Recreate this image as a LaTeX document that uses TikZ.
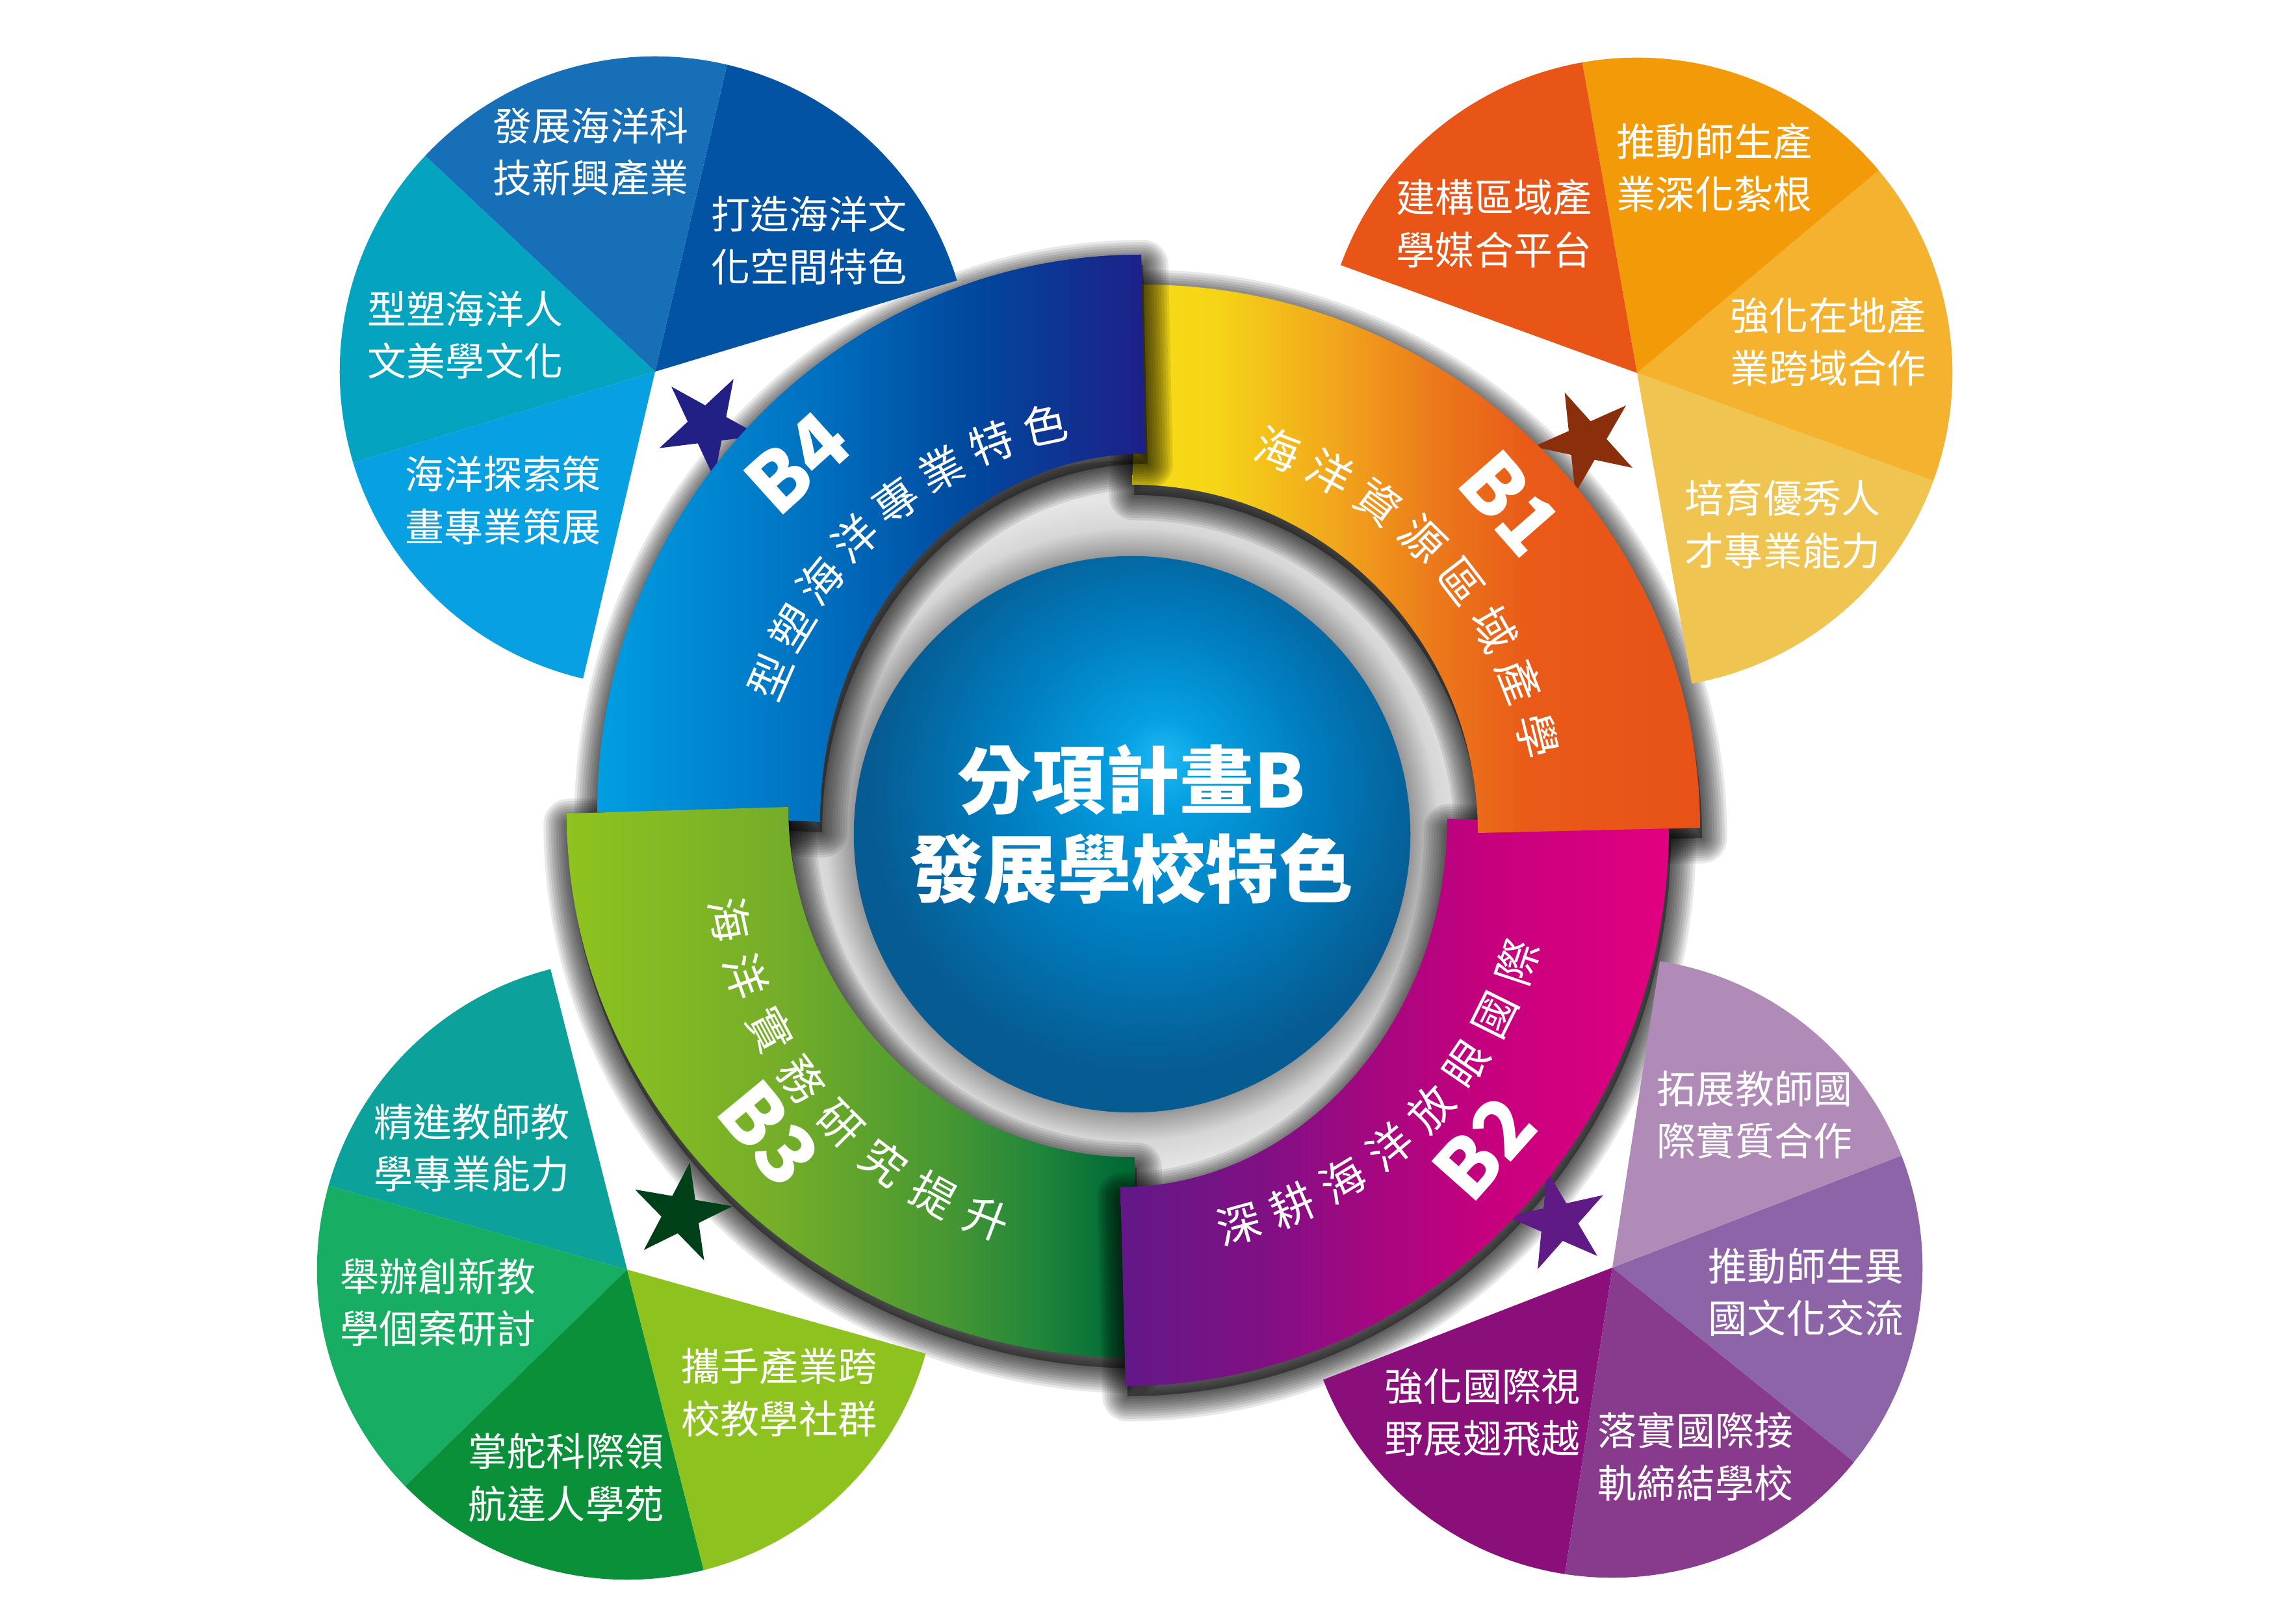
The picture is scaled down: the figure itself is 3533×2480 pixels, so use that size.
\documentclass[tikz,border=0pt]{standalone}
\usepackage{fontspec}
\newfontfamily\cjk{Noto Sans CJK TC}
% pie colours
\definecolor{tlA}{RGB}{3,83,164}
\definecolor{tlB}{RGB}{23,111,184}
\definecolor{tlC}{RGB}{4,163,192}
\definecolor{tlD}{RGB}{7,160,227}
\definecolor{trA}{RGB}{240,196,81}
\definecolor{trB}{RGB}{245,178,47}
\definecolor{trC}{RGB}{242,154,8}
\definecolor{trD}{RGB}{232,85,22}
\definecolor{blA}{RGB}{12,162,155}
\definecolor{blB}{RGB}{23,173,98}
\definecolor{blC}{RGB}{10,144,57}
\definecolor{blD}{RGB}{141,194,31}
\definecolor{brA}{RGB}{138,15,123}
\definecolor{brB}{RGB}{136,59,141}
\definecolor{brC}{RGB}{142,100,168}
\definecolor{brD}{RGB}{177,139,183}
% stars
\definecolor{stTL}{RGB}{34,31,133}
\definecolor{stTR}{RGB}{139,46,12}
\definecolor{stBL}{RGB}{0,64,25}
\definecolor{stBR}{RGB}{96,26,134}
% ring segment gradients
\definecolor{bfA}{RGB}{0,158,226}
\definecolor{bfB}{RGB}{0,112,192}
\definecolor{bfC}{RGB}{0,72,158}
\definecolor{bfD}{RGB}{29,32,136}
\pgfdeclarehorizontalshading{shBfour}{100bp}{color(0bp)=(bfA); color(25bp)=(bfA); color(45bp)=(bfB); color(59bp)=(bfC); color(75bp)=(bfD); color(100bp)=(bfD)}
\definecolor{boA}{RGB}{245,218,22}
\definecolor{boB}{RGB}{245,214,22}
\definecolor{boC}{RGB}{242,170,28}
\definecolor{boD}{RGB}{236,120,27}
\definecolor{boE}{RGB}{233,90,24}
\definecolor{boF}{RGB}{232,82,24}
\pgfdeclarehorizontalshading{shBone}{100bp}{color(0bp)=(boA); color(25bp)=(boA); color(32bp)=(boB); color(42bp)=(boC); color(52bp)=(boD); color(60bp)=(boE); color(75bp)=(boF); color(100bp)=(boF)}
\definecolor{btA}{RGB}{98,24,135}
\definecolor{btB}{RGB}{128,16,132}
\definecolor{btC}{RGB}{172,5,128}
\definecolor{btD}{RGB}{197,0,126}
\definecolor{btE}{RGB}{226,0,127}
\pgfdeclarehorizontalshading{shBtwo}{100bp}{color(0bp)=(btA); color(25bp)=(btA); color(38bp)=(btB); color(50bp)=(btC); color(58bp)=(btD); color(75bp)=(btE); color(100bp)=(btE)}
\definecolor{bhA}{RGB}{143,195,31}
\definecolor{bhB}{RGB}{116,173,41}
\definecolor{bhC}{RGB}{72,152,50}
\definecolor{bhD}{RGB}{34,135,59}
\definecolor{bhE}{RGB}{6,112,55}
\definecolor{bhF}{RGB}{0,104,52}
\pgfdeclarehorizontalshading{shBthree}{100bp}{color(0bp)=(bhA); color(25bp)=(bhA); color(44bp)=(bhB); color(58bp)=(bhC); color(66bp)=(bhD); color(72bp)=(bhE); color(75bp)=(bhF); color(100bp)=(bhF)}
% ball
\definecolor{ballA}{RGB}{30,185,242}
\definecolor{ballB}{RGB}{5,160,226}
\definecolor{ballC}{RGB}{0,125,192}
\definecolor{ballD}{RGB}{6,92,146}
\pgfdeclareradialshading{shBall}{\pgfpoint{3bp}{7bp}}{color(0bp)=(ballA); color(4bp)=(ballB); color(14bp)=(ballC); color(25bp)=(ballD); color(50bp)=(ballD)}
% gap between ball and ring (radius 575 <-> 25bp)
\definecolor{gapA}{RGB}{150,150,150}
\definecolor{gapB}{RGB}{214,214,214}
\definecolor{gapC}{RGB}{230,230,230}
\definecolor{gapD}{RGB}{215,215,215}
\pgfdeclareradialshading{shGap}{\pgfpoint{0bp}{0bp}}{color(0bp)=(gapA); color(18.6bp)=(gapA); color(20.5bp)=(gapB); color(22.5bp)=(gapC); color(25bp)=(gapD); color(50bp)=(gapD)}
% segment outlines
\def\pathBfour{(919,1230) .. controls (919,1704) and (1294,2088) .. (1756,2088) -- (1763,1782) .. controls (1486,1782) and (1262,1528) .. (1262,1215) -- cycle}
\def\pathBone{(1757,2042) .. controls (2231,2042) and (2616,1667) .. (2616,1206) -- (2274,1198) .. controls (2274,1494) and (2036,1734) .. (1742,1734) -- cycle}
\def\pathBtwo{(2568,1206) .. controls (2568,732) and (2193,347) .. (1732,347) -- (1724,653) .. controls (2002,653) and (2227,907) .. (2227,1220) -- cycle}
\def\pathBthree{(872,1228) .. controls (872,765) and (1265,390) .. (1750,390) -- (1746,699) .. controls (1452,699) and (1213,940) .. (1213,1238) -- cycle}
\newcommand{\pieSec}[6]{\fill[#6] (#1,#2) -- ++(#4:#3) arc[start angle=#4, end angle=#5, radius=#3] -- cycle;}
\newcommand{\starShape}[5]{\fill[#5] plot[samples at={0,...,9}, variable=\k] ({#1+#3*(0.691+0.309*cos(180*\k))*cos(#4+36*\k)}, {#2+#3*(0.691+0.309*cos(180*\k))*sin(#4+36*\k)}) -- cycle;}
\newcommand{\segShadow}[1]{%
  \fill[black, opacity=0.4, shift={(3,-16)}] #1;
  \foreach \w in {1,...,10} {\draw[black, opacity=0.09, line width=\w*2.2pt, line join=round, shift={(3,-16)}] #1;}%
}
\begin{document}
\begin{tikzpicture}[x=0.01cm,y=0.01cm]
\tikzset{
  pietxt/.style={text=white, font=\cjk\fontsize{17.07}{22.8}\selectfont, align=center, inner sep=0pt},
  ringtxt/.style={text=white, font=\cjk\fontsize{19.3}{19.3}\selectfont, inner sep=0pt},
  blbl/.style={text=white, font=\cjk\bfseries\fontsize{35}{35}\selectfont, inner sep=0pt},
  centxt/.style={text=white, font=\cjk\bfseries\fontsize{32.4}{39}\selectfont, inner sep=0pt},
}
\useasboundingbox (0,0) rectangle (3533,2480);
\fill[white] (0,0) rectangle (3533,2480);

% gap ring around the ball
\shade[shading=shGap] (1742,1196) circle[radius=5.75cm];

% shadows of the ring segments
\segShadow{\pathBfour}
\segShadow{\pathBone}
\segShadow{\pathBtwo}
\segShadow{\pathBthree}

% pies
\pieSec{1008}{1908}{4.85cm}{16.8}{76.8}{tlA}
\pieSec{1008}{1908}{4.85cm}{76.8}{136.8}{tlB}
\pieSec{1008}{1908}{4.85cm}{136.8}{196.8}{tlC}
\pieSec{1008}{1908}{4.85cm}{196.8}{256.8}{tlD}
\pieSec{2519}{1906}{4.85cm}{-80}{-20}{trA}
\pieSec{2519}{1906}{4.85cm}{-20}{40}{trB}
\pieSec{2519}{1906}{4.85cm}{40}{100}{trC}
\pieSec{2519}{1906}{4.85cm}{100}{160}{trD}
\pieSec{965}{526}{4.77cm}{104.3}{164.3}{blA}
\pieSec{965}{526}{4.77cm}{164.3}{224.3}{blB}
\pieSec{965}{526}{4.77cm}{224.3}{284.3}{blC}
\pieSec{965}{526}{4.77cm}{284.3}{344.3}{blD}
\pieSec{2481}{529}{4.77cm}{201.2}{261.2}{brA}
\pieSec{2481}{529}{4.77cm}{261.2}{321.2}{brB}
\pieSec{2481}{529}{4.77cm}{321.2}{381.2}{brC}
\pieSec{2481}{529}{4.77cm}{381.2}{441.2}{brD}

% stars
\starShape{1089}{1825}{82}{61}{stTL}
\starShape{2441}{1801}{82}{114}{stTR}
\starShape{1048}{612}{80}{80.3}{stBL}
\starShape{2398}{600}{80}{102.5}{stBR}

% ball
\shade[shading=shBall] (1742,1196) circle[radius=4.28cm];

% ring segments (pinwheel overlap)
\shade[shading=shBfour] \pathBfour;
\shade[shading=shBthree] \pathBthree;
\begin{scope}
  \clip \pathBthree;
  \segShadow{\pathBtwo}
\end{scope}
\shade[shading=shBtwo] \pathBtwo;
\shade[shading=shBone] \pathBone;
\begin{scope}
  \clip \pathBone;
  \segShadow{\pathBfour}
\end{scope}
\begin{scope}
  \clip (1500,1650) rectangle (1900,2200);
  \shade[shading=shBfour] \pathBfour;
\end{scope}

% pie texts
\node[pietxt] (tl1) at (1245,2110) {打造海洋文\\化空間特色};
\node[pietxt] (tl2) at (909,2246) {發展海洋科\\技新興產業};
\node[pietxt] (tl3) at (716,1964) {型塑海洋人\\文美學文化};
\node[pietxt] (tl4) at (774,1710) {海洋探索策\\畫專業策展};
\node[pietxt] (tr1) at (2299,2136) {建構區域產\\學媒合平台};
\node[pietxt] (tr2) at (2638,2222) {推動師生產\\業深化紮根};
\node[pietxt] (tr3) at (2813,1954) {強化在地產\\業跨域合作};
\node[pietxt] (tr4) at (2743,1673) {培育優秀人\\才專業能力};
\node[pietxt] (bl1) at (726,713) {精進教師教\\學專業能力};
\node[pietxt] (bl2) at (674,475) {舉辦創新教\\學個案研討};
\node[pietxt] (bl3) at (871,206) {掌舵科際領\\航達人學苑};
\node[pietxt] (bl4) at (1199,337) {攜手產業跨\\校教學社群};
\node[pietxt] (br1) at (2700,764) {拓展教師國\\際實質合作};
\node[pietxt] (br2) at (2779,491) {推動師生異\\國文化交流};
\node[pietxt] (br3) at (2609,238) {落實國際接\\軌締結學校};
\node[pietxt] (br4) at (2281,306) {強化國際視\\野展翅飛越};

% ring texts
\foreach \c [count=\i from 0] in {型,塑,海,洋,專,業,特,色}{
  \pgfmathsetmacro\myang{156.5+\i*(102-156.5)/7}
  \pgfmathsetmacro\myrad{608+\i*(645-608)/7}
  \node[ringtxt, rotate=\myang-90] (rfour\i) at ({1742+\myrad*cos(\myang)},{1196+\myrad*sin(\myang)}) {\c};
}
\foreach \c [count=\i from 0] in {海,洋,資,源,區,域,產,學}{
  \pgfmathsetmacro\myang{69.3+\i*(13.7-69.3)/7}
  \pgfmathsetmacro\myrad{634+\i*(642-634)/7}
  \node[ringtxt, rotate=\myang-90] (rone\i) at ({1742+\myrad*cos(\myang)},{1196+\myrad*sin(\myang)}) {\c};
}
\foreach \c [count=\i from 0] in {深,耕,海,洋,放,眼,國,際}{
  \pgfmathsetmacro\myang{-74.7+\i*(-18.4+74.7)/7}
  \pgfmathsetmacro\myrad{622+\i*(625-622)/7}
  \node[ringtxt, rotate=\myang+90] (rtwo\i) at ({1742+\myrad*cos(\myang)},{1196+\myrad*sin(\myang)}) {\c};
}
\foreach \c [count=\i from 0] in {海,洋,實,務,研,究,提,升}{
  \pgfmathsetmacro\myang{192+\i*(249.3-192)/7}
  \pgfmathsetmacro\myrad{633}
  \node[ringtxt, rotate=\myang+90] (rthree\i) at ({1742+\myrad*cos(\myang)},{1196+\myrad*sin(\myang)}) {\c};
}

% B labels
\node[blbl, rotate=42] (lbfour) at ({1742+770*cos(132)},{1196+770*sin(132)}) {B4};
\node[blbl, rotate=-48.8] (lbone) at ({1742+774*cos(41.2)},{1196+774*sin(41.2)}) {B1};
\node[blbl, rotate=48.3] (lbtwo) at ({1742+725*cos(-41.7)},{1196+725*sin(-41.7)}) {B2};
\node[blbl, rotate=-50.5] (lbthree) at ({1742+724*cos(219.5)},{1196+724*sin(219.5)}) {B3};

% centre text
\node[centxt] (ctA) at (1741,1280) {分項計畫B};
\node[centxt] (ctB) at (1741,1143) {發展學校特色};
\end{tikzpicture}
\end{document}
